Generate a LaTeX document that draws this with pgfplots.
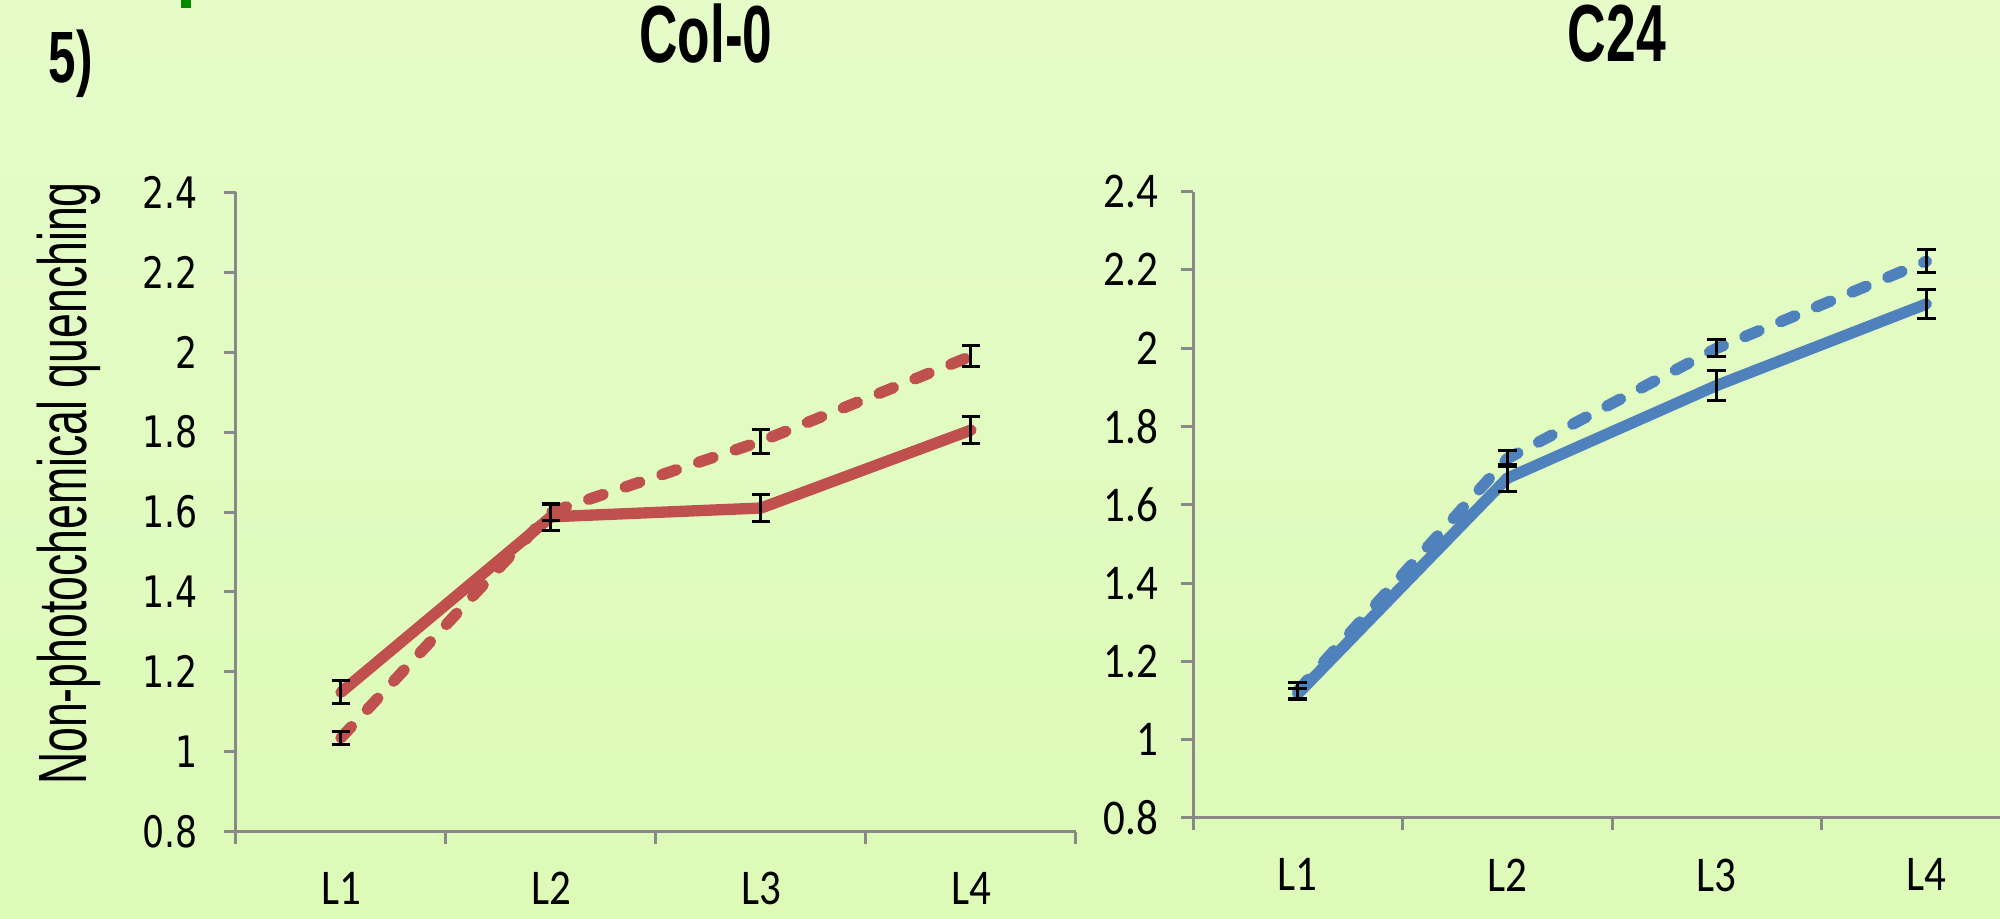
\documentclass[border=0pt]{standalone}
\usepackage{pgfplots}
\usepackage{pgfplotstable}
\pgfplotsset{compat=1.18}
\usepackage{fontspec}
\setmainfont{Carlito}
\newfontfamily\dejavu{DejaVu Sans}
\newfontfamily\lib{Liberation Sans}
\definecolor{bgtop}{HTML}{E5FCC9}
\definecolor{bgbot}{HTML}{DDFAB7}
\definecolor{axgray}{HTML}{898989}
\definecolor{xred}{HTML}{C0504D}
\definecolor{xblue}{HTML}{4F81BD}
\definecolor{topgreen}{HTML}{008A00}

% Col-0: solid (y, e) and dashed (yd, ed)
\pgfplotstableread{
x y e yd ed
0 1.149 0.029 1.035 0.017
1 1.588 0.033 1.600 0.020
2 1.610 0.033 1.777 0.030
3 1.805 0.033 1.990 0.026
}\colo
% C24: solid (y, e) and dashed (yd, ed)
\pgfplotstableread{
x y e yd ed
0 1.117 0.015 1.125 0.020
1 1.668 0.034 1.718 0.020
2 1.905 0.038 2.000 0.022
3 2.113 0.038 2.222 0.029
}\ctf

\pgfplotsset{
  myaxis/.style={
    scale only axis,
    anchor=south west,
    axis x line*=bottom, axis y line*=left,
    axis line style={axgray, line width=0.9pt},
    every tick/.style={axgray, line width=0.9pt},
    tick align=outside,
    major tick length=3.6pt,
    ymin=0.8, ymax=2.4,
    ytick={0.8,1,1.2,1.4,1.6,1.8,2,2.2,2.4},
    xmin=-0.5,
    xtick={-0.5,0.5,1.5,2.5,3.5},
    xticklabels={},
    extra x ticks={0,1,2,3},
    extra x tick labels={L1,L2,L3,L4},
    extra x tick style={major tick length=0pt},
    /pgf/number format/assume math mode=true,
    xticklabel style={font=\fontsize{15}{15}\selectfont, xscale=0.86, inner sep=0pt, anchor=north, yshift=-12pt},
  },
  ln/.style={line width=3.4pt, line join=round, line cap=round, mark=none},
  dsh/.style={dash pattern=on 4.6pt off 7pt},
  bars/.style={draw=none, mark=none, forget plot,
    error bars/.cd, y dir=both, y explicit,
    error bar style={draw=black, line width=0.9pt, solid},
    error mark options={draw=black, line width=0.9pt, mark size=2.8pt, solid, rotate=90}},
}

\begin{document}
\begin{tikzpicture}[line cap=round]
\shade[top color=bgtop, bottom color=bgbot] (0pt,0pt) rectangle (600pt,275.7pt);
\useasboundingbox (0pt,0pt) rectangle (600pt,275.7pt);
\fill[topgreen] (54.3pt,273.3pt) rectangle (57.3pt,276pt);
\node[anchor=base west, inner sep=0pt] at (14.4pt,250.8pt)
  {\scalebox{0.68}[1]{\lib\bfseries\fontsize{21.8}{22}\selectfont 5)}};

\begin{axis}[myaxis,
  at={(70.8pt,26.19pt)}, width=252pt, height=191.8pt,
  xmax=3.5,
  yticklabel style={font=\dejavu\fontsize{13}{13}\selectfont, xscale=0.8, xshift=-6.3pt},
  ylabel={\scalebox{0.653}[1]{\lib\fontsize{20.5}{20.5}\selectfont Non-photochemical quenching}},
  ylabel style={at={(axis description cs:-0.1774,0.5446)}, anchor=base},
  title={\scalebox{0.657}[1]{\lib\bfseries\fontsize{24.3}{24.3}\selectfont Col-0}},
  title style={at={(axis description cs:0.5595,1.1725)}, anchor=base, inner sep=0pt},
]
\addplot[xred, ln] table[x=x,y=y] {\colo};
\addplot[xred, ln, dsh] table[x=x,y=yd] {\colo};
\addplot[bars] table[x=x,y=y,y error=e] {\colo};
\addplot[bars] table[x=x,y=yd,y error=ed] {\colo};
\end{axis}

\begin{axis}[myaxis,
  at={(357.9pt,30.3pt)}, width=242.1pt, height=187.9pt,
  xmax=3.352,
  yticklabel style={font=\fontsize{15}{15}\selectfont, xscale=0.86, xshift=-4.5pt},
  title={\scalebox{0.66}[1]{\lib\bfseries\fontsize{24.3}{24.3}\selectfont C24}},
  title style={at={(axis description cs:0.5254,1.1752)}, anchor=base, inner sep=0pt},
]
\addplot[xblue, ln] table[x=x,y=y] {\ctf};
\addplot[xblue, ln, dsh] table[x=x,y=yd] {\ctf};
\addplot[bars] table[x=x,y=y,y error=e] {\ctf};
\addplot[bars] table[x=x,y=yd,y error=ed] {\ctf};
\end{axis}
\end{tikzpicture}
\end{document}
